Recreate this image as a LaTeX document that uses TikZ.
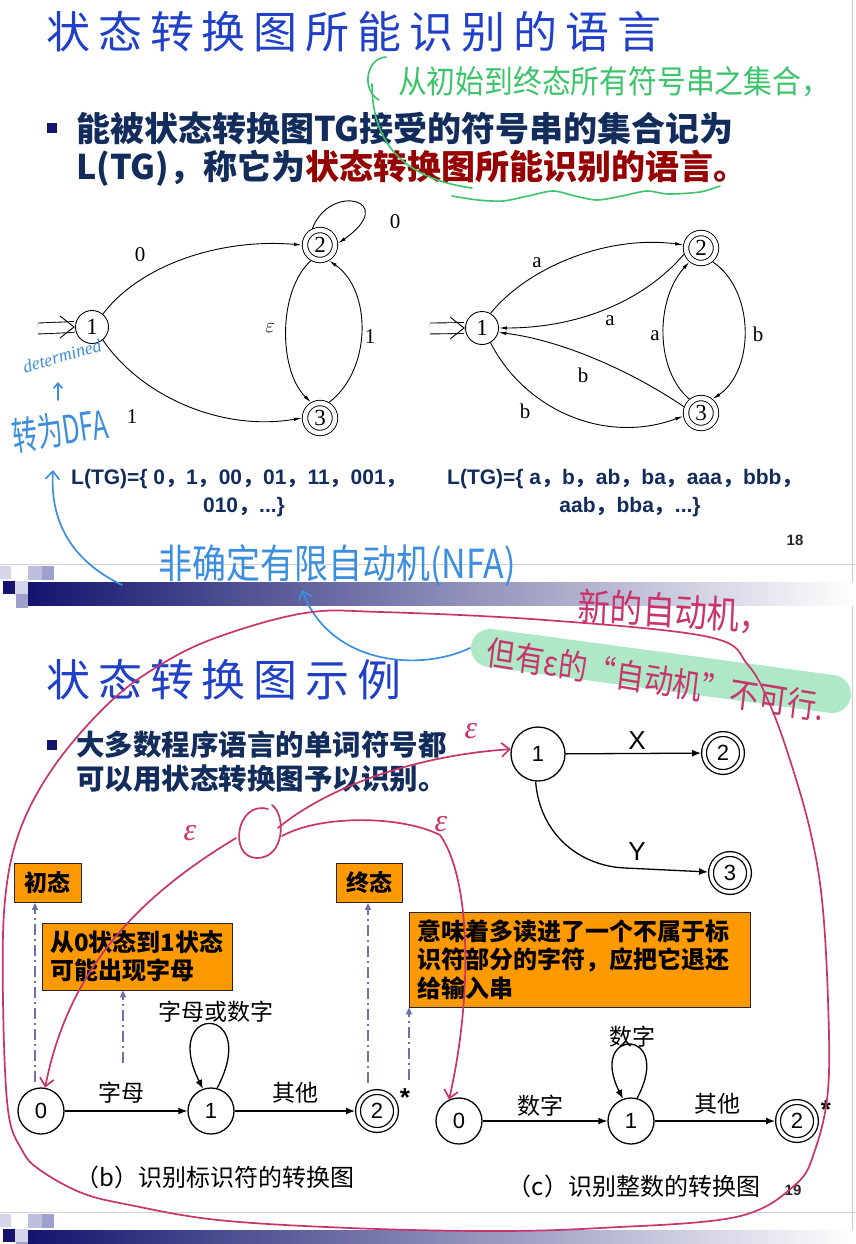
\documentclass[tikz,border=0pt]{standalone}
\usepackage{fontspec}
\setmainfont{Liberation Sans}
\newfontfamily\cjk{Noto Sans CJK SC}
\newfontfamily\tms{Liberation Serif}
\usetikzlibrary{arrows.meta}
\definecolor{tblue}{RGB}{32,64,200}
\definecolor{navy}{RGB}{18,44,92}
\definecolor{dred}{RGB}{150,0,0}
\definecolor{bnavy}{RGB}{20,20,110}
\definecolor{orng}{RGB}{255,153,0}
\definecolor{ddc}{RGB}{112,112,168}
\definecolor{pk}{RGB}{200,52,108}
\definecolor{hb}{RGB}{60,142,222}
\definecolor{hg}{RGB}{60,196,106}
\definecolor{hl}{RGB}{160,228,190}
\definecolor{sqa}{RGB}{214,214,234}
\definecolor{sqb}{RGB}{160,160,206}
\definecolor{sqc}{RGB}{190,190,222}
\newcommand{\cm}{{\cjk\bfseries ，}}
\begin{document}
\begin{tikzpicture}[x=1pt,y=-1pt,
  ts/.style={circle, draw, line width=0.9pt, minimum size=33pt, inner sep=0pt, font=\tms\fontsize{23}{23}\selectfont},
  tacc/.style={ts, minimum size=30pt, double, double distance=4.5pt, outer sep=3.1pt},
  ta/.style={line width=0.9pt, -{Latex[length=8pt,width=3.5pt]}},
  tl/.style={font=\tms\fontsize{21}{21}\selectfont, inner sep=0pt},
  bs/.style={circle, draw, line width=1.3pt, minimum size=46pt, inner sep=0pt, font=\fontsize{22}{22}\selectfont},
  bacc/.style={bs, minimum size=38pt, double, double distance=3.5pt, outer sep=3pt},
  ba/.style={line width=1.3pt, -{Latex[length=9pt,width=7pt]}},
  bl/.style={font=\cjk\fontsize{23}{23}\selectfont, inner sep=0pt},
  box/.style={draw=black!85, line width=0.8pt, fill=orng, inner sep=0pt, font=\cjk\bfseries\fontsize{23}{23}\selectfont},
  dd/.style={draw=ddc, line width=1.7pt, dash pattern=on 11pt off 4pt on 2pt off 4pt, -{Triangle[length=7pt,width=6pt]}},
  pkp/.style={draw=pk, line width=1.7pt, line cap=round, line join=round},
  hbp/.style={draw=hb, line width=1.7pt, line cap=round, line join=round},
  hgp/.style={draw=hg, line width=1.6pt, line cap=round, line join=round},
  barb/.style={-{Straight Barb[length=8pt,width=14pt]}},
  ttl/.style={anchor=west, inner sep=0pt, text=tblue, font=\cjk\fontsize{44}{44}\selectfont\addfontfeature{LetterSpace=18}}
]
\useasboundingbox (0,0) rectangle (855,1244);
\fill[white] (0,0) rectangle (855,1244);
\draw[black!20] (852,0) -- (852,1244);

% ================= slide 18 =================
\node[ttl] (t1) at (46,32) {状态转换图所能识别的语言};
\node[fill=bnavy, minimum size=10pt, inner sep=0pt] (bu1) at (52,128) {};
\node[anchor=west, inner sep=0pt, text=navy, font=\cjk\bfseries\fontsize{34}{34}\selectfont] (p1) at (76,128) {能被状态转换图TG接受的符号串的集合记为};
\node[anchor=west, inner sep=0pt, text=navy, font=\cjk\bfseries\fontsize{34}{34}\selectfont] (p2) at (76,168) {L(TG)，称它为\textcolor{dred}{状态转换图所能识别的语言。}};

% left TG
\node[ts] (a1) at (92,327) {1};
\node[tacc] (a2) at (320,245) {2};
\node[tacc] (a3) at (320,418) {3};
\coordinate (sa) at (38,328.5);
\draw[line width=0.9pt, double distance=10pt] (sa) -- ([xshift=-1pt]a1.west);
\draw[line width=0.9pt] ([shift={(-15,-11)}]a1.west) -- ([xshift=-1pt]a1.west) -- ([shift={(-15,11)}]a1.west);
\draw[ta] (a1.50) .. controls (140,265) and (220,238) .. (a2.180);
\draw[ta] (a1.-50) .. controls (140,395) and (220,432) .. (a3.180);
\draw[ta] (a2.115) .. controls (330,182) and (400,200) .. (a2.5);
\draw[ta] (a2.240) .. controls (278,290) and (278,370) .. (a3.120);
\draw[ta] (a3.60) .. controls (372,370) and (372,290) .. (a2.300);
\node[tl] (la1) at (140,255) {0};
\node[tl] (la2) at (132,417) {1};
\node[tl] (la3) at (395,222) {0};
\node[tl] (la4) at (270,328) {$\varepsilon$};
\node[tl] (la5) at (370,337) {1};

% right TG
\node[ts] (b1) at (482,328) {1};
\node[tacc] (b2) at (701,248) {2};
\node[tacc] (b3) at (701,413) {3};
\coordinate (sb) at (430,328.5);
\draw[line width=0.9pt, double distance=10pt] (sb) -- ([xshift=-1pt]b1.west);
\draw[line width=0.9pt] ([shift={(-15,-11)}]b1.west) -- ([xshift=-1pt]b1.west) -- ([shift={(-15,11)}]b1.west);
\draw[ta] (b1.60) .. controls (530,265) and (610,235) .. (b2.170);
\draw[ta] (b2.200) .. controls (645,300) and (580,328) .. (b1.0);
\draw[ta] (b3.130) .. controls (655,370) and (655,300) .. (b2.230);
\draw[ta] (b2.310) .. controls (755,290) and (755,370) .. (b3.50);
\draw[ta] (b3.160) .. controls (630,370) and (560,340) .. (b1.-15);
\draw[ta] (b1.-60) .. controls (525,410) and (605,445) .. (b3.190);
\node[tl] (lb1) at (537,263) {a};
\node[tl] (lb2) at (610,321) {a};
\node[tl] (lb3) at (655,336) {a};
\node[tl] (lb4) at (758,334) {b};
\node[tl] (lb5) at (583,375) {b};
\node[tl] (lb6) at (525,411) {b};

\node[anchor=west, inner sep=0pt, text=navy, font=\bfseries\fontsize{21}{21}\selectfont] (L1) at (71,479) {L(TG)=\{ 0\cm 1\cm 00\cm 01\cm 11\cm 001\cm};
\node[inner sep=0pt, text=navy, font=\bfseries\fontsize{21}{21}\selectfont] (L2) at (244,507) {010\cm ...\}};
\node[anchor=west, inner sep=0pt, text=navy, font=\bfseries\fontsize{21}{21}\selectfont] (L3) at (447,479) {L(TG)=\{ a\cm b\cm ab\cm ba\cm aaa\cm bbb\cm};
\node[inner sep=0pt, text=navy, font=\bfseries\fontsize{21}{21}\selectfont] (L4) at (630,507) {aab\cm bba\cm ...\}};
\node[inner sep=0pt, text=black!85, font=\bfseries\fontsize{15}{15}\selectfont] (pg1) at (795,540) {18};

% ================= band =================
\foreach \dy in {0,648}{
  \draw[black!18, line width=1pt] (0,564+\dy) -- (855,564+\dy);
  \shade[left color=bnavy, middle color={rgb,255:red,140;green,140;blue,178}, right color=white] (28,582+\dy) rectangle (855,605+\dy);
  \fill[sqa] (0,566+\dy) rectangle (11,579+\dy);
  \fill[sqc] (28,566+\dy) rectangle (42,580+\dy);
  \fill[sqb] (42,566+\dy) rectangle (54,580+\dy);
  \fill[bnavy] (3,581+\dy) rectangle (15,594+\dy);
  \fill[sqa] (15,581+\dy) rectangle (28,594+\dy);
  \fill[sqb] (16,594+\dy) rectangle (28,608+\dy);
}

% ================= slide 19 =================
\node[ttl] (t2) at (46,680) {状态转换图示例};
\node[fill=bnavy, minimum size=10pt, inner sep=0pt] (bu2) at (52,745) {};
\node[anchor=west, inner sep=0pt, text=navy, font=\cjk\bfseries\fontsize{28.5}{28.5}\selectfont] (q1) at (76,745) {大多数程序语言的单词符号都};
\node[anchor=west, inner sep=0pt, text=navy, font=\cjk\bfseries\fontsize{28.5}{28.5}\selectfont] (q2) at (76,779) {可以用状态转换图予以识别。};

% XY diagram
\node[bs, minimum size=54pt] (c1) at (538,754) {1};
\node[bacc] (c2) at (723,753) {2};
\node[bacc] (c3) at (730,873) {3};
\coordinate (yk) at (625,868);
\draw[ba] (c1) -- (c2);
\draw[ba] (c1.265) .. controls (540,835) and (580,866) .. (yk) -- (c3);
\node[inner sep=0pt, font=\fontsize{26}{26}\selectfont] (lx) at (637,741) {X};
\node[inner sep=0pt, font=\fontsize{26}{26}\selectfont] (ly) at (637,852) {Y};

% boxes
\node[box, minimum width=67pt, minimum height=39pt] (init) at (47.5,883) {初态};
\node[box, minimum width=66pt, minimum height=39pt] (final) at (369,883) {终态};
\node[box, text width=174pt, inner xsep=8pt, minimum height=67pt, align=left, font=\cjk\bfseries\fontsize{24}{28}\selectfont] (bx2) at (137,956.5) {从0状态到1状态\\可能出现字母};
\node[box, text width=325pt, inner xsep=8pt, minimum height=95pt, align=left, font=\cjk\bfseries\fontsize{24}{28.5}\selectfont] (bx3) at (579.5,959.5) {意味着多读进了一个不属于标\\识符部分的字符，应把它退还\\给输入串};
\coordinate (d1s) at (35,1082);
\coordinate (d2s) at (123,1063);
\coordinate (d3s) at (368,1083);
\coordinate (d4s) at (409,1080);
\draw[dd] (d1s) -- (d1s |- init.south);
\draw[dd] (d2s) -- (d2s |- bx2.south);
\draw[dd] (d3s) -- (d3s |- final.south);
\draw[dd] (d4s) -- (d4s |- bx3.south);

% identifier diagram
\node[bs] (e0) at (41,1111) {0};
\node[bs] (e1) at (211,1111) {1};
\node[bacc] (e2) at (377,1111) {2};
\draw[ba] (e0) -- (e1);
\draw[ba] (e1) -- (e2);
\draw[ba] (e1.75) .. controls (262,1003) and (160,1003) .. (e1.110);
\node[bl] (le1) at (121,1093) {字母};
\node[bl] (le2) at (295,1093) {其他};
\node[bl] (le3) at (216,1012) {字母或数字};
\node[inner sep=0pt, font=\bfseries\fontsize{26}{26}\selectfont] (st1) at (405,1098) {*};
\node[bl, font=\cjk\fontsize{24}{24}\selectfont] (cap1) at (215,1177) {（b）识别标识符的转换图};

% integer diagram
\node[bs] (f0) at (459,1121) {0};
\node[bs] (f1) at (631,1121) {1};
\node[bacc] (f2) at (797,1121) {2};
\draw[ba] (f0) -- (f1);
\draw[ba] (f1) -- (f2);
\draw[ba] (f1.75) .. controls (675,1027) and (587,1027) .. (f1.110);
\node[bl] (lf1) at (540,1106) {数字};
\node[bl] (lf2) at (717,1104) {其他};
\node[bl] (lf3) at (632,1037) {数字};
\node[inner sep=0pt, font=\bfseries\fontsize{26}{26}\selectfont] (st2) at (826,1110) {*};
\node[bl, font=\cjk\fontsize{24}{24}\selectfont] (cap2) at (634,1186) {（c）识别整数的转换图};
\node[inner sep=0pt, text=black!85, font=\bfseries\fontsize{15}{15}\selectfont] (pg2) at (793,1190) {19};

% ================= handwritten notes =================
% green
\draw[hgp] (386,57) .. controls (366,58) and (361,90) .. (379,100);
\draw[hgp] (372,84) .. controls (372,140) and (400,178) .. (472,188);
\draw[hgp] plot[smooth] coordinates {(452,196)(478,200)(503,201)(528,196)(553,191)(575,196)(597,200)(622,196)(647,191)(668,194)(700,192)(720,186)};
\node[anchor=west, inner sep=0pt, text=hg, xscale=0.9, font=\cjk\fontsize{32}{32}\selectfont] (gtx) at (398,82) {从初始到终态所有符号串之集合，};

% blue
\node[inner sep=0pt, text=hb, rotate=16, font=\tms\itshape\fontsize{18}{18}\selectfont] (det) at (62,356) {determined};
\draw[hbp, -{Straight Barb[length=5pt,width=9pt]}] (58,400) -- (58,382);
\node[inner sep=0pt, text=hb, rotate=8, xscale=0.85, yscale=1.3, font=\cjk\fontsize{30}{30}\selectfont] (dfa) at (60,430) {转为DFA};
\draw[hbp, barb] (122,585) .. controls (70,560) and (50,520) .. (53,470);
\node[anchor=west, inner sep=0pt, text=hb, xscale=0.85, font=\cjk\fontsize{40}{40}\selectfont] (nfa) at (158,565) {非确定有限自动机(NFA)};

% green highlight + pink text
\draw[hl, line width=38pt, line cap=round, opacity=0.85] (490,648) -- (832,694);
\draw[hbp, barb] (470,648) .. controls (420,672) and (330,665) .. (302,590);
\node[anchor=west, inner sep=0pt, text=pk, xscale=0.85, rotate=-3, font=\cjk\fontsize{38}{38}\selectfont] (pt1) at (578,606) {新的自动机，};
\node[anchor=west, inner sep=0pt, text=pk, xscale=0.85, rotate=-8, font=\cjk\fontsize{34}{34}\selectfont] (pt2) at (487,652) {但有ε的“自动机”不可行.};

% pink loop and arrows
\draw[pkp] plot[smooth cycle, tension=0.6] coordinates {(305,613)(381,612)(545,620)(709,637)(748,665)(770,705)(790,760)(810,830)(822,900)(828,1000)(828,1090)(815,1150)(795,1185)(736,1217)(600,1228)(490,1231)(350,1228)(218,1220)(130,1205)(82,1193)(40,1170)(22,1150)(8,1110)(3,1000)(5,900)(20,830)(55,765)(109,703)(160,665)(218,637)};
\draw[pkp] (268,809) .. controls (236,800) and (228,858) .. (257,858) .. controls (285,858) and (286,815) .. (272,805);
\draw[pkp, barb] (278,828) .. controls (330,785) and (420,755) .. (c1.170);
\draw[pkp, barb] (236,838) .. controls (150,890) and (70,960) .. (e0.80);
\draw[pkp, barb] (282,836) .. controls (320,815) and (400,815) .. (440,835) .. controls (472,880) and (472,1000) .. (f0.115);
\node[inner sep=0pt, text=pk, font=\tms\itshape\fontsize{32}{32}\selectfont] (ep1) at (471,731) {ε};
\node[inner sep=0pt, text=pk, font=\tms\itshape\fontsize{32}{32}\selectfont] (ep2) at (190,833) {ε};
\node[inner sep=0pt, text=pk, font=\tms\itshape\fontsize{32}{32}\selectfont] (ep3) at (441,824) {ε};
\end{tikzpicture}
\end{document}
